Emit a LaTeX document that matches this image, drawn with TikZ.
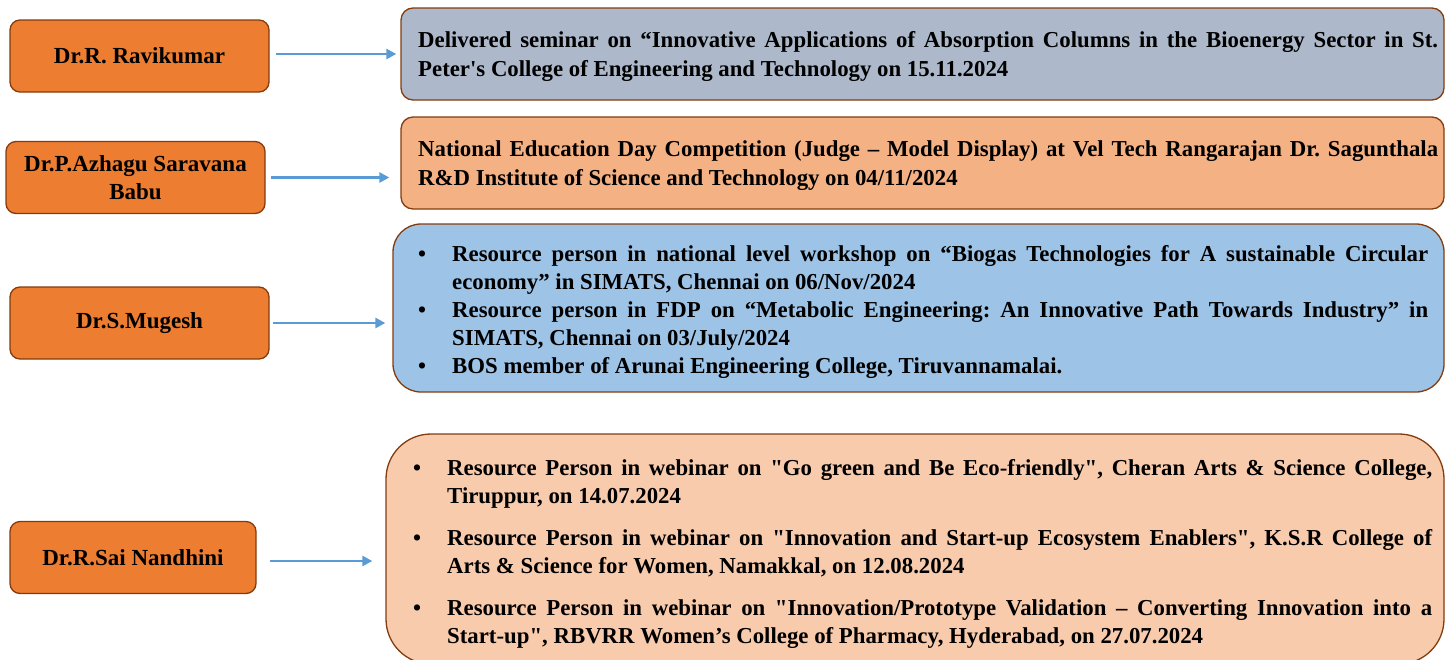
\documentclass[tikz,border=0pt]{standalone}
\usepackage{fontspec}
\newfontfamily\timesfont{Liberation Serif}
\usetikzlibrary{arrows.meta,positioning}
\definecolor{edge}{HTML}{843C0C}
\definecolor{namefill}{HTML}{ED7D31}
\definecolor{grayfill}{HTML}{ADB9CA}
\definecolor{orangefill}{HTML}{F4B183}
\definecolor{bluefill}{HTML}{9DC3E6}
\definecolor{peachfill}{HTML}{F8CBAD}
\definecolor{linkblue}{HTML}{5B9BD5}
\newcommand{\bulletitem}[1]{\hangindent=34pt\hangafter=1\noindent\makebox[34pt][l]{\textbullet}#1\par}
\newcommand{\nohyph}{\frenchspacing\hyphenpenalty=10000\exhyphenpenalty=10000\tolerance=9999\emergencystretch=20pt}
\tikzset{
  namebox/.style={draw=edge,fill=namefill,line width=1.3pt,rounded corners=10pt,
    minimum width=259pt,minimum height=72pt,align=center,
    font=\timesfont\bfseries\fontsize{23}{28}\selectfont},
  infobox/.style={draw=edge,line width=1.3pt,rounded corners=12pt},
  infotext/.style={anchor=north west,inner sep=0pt,align=justify,
    font=\timesfont\bfseries\fontsize{22.8}{29.5}\selectfont,
    execute at begin node=\nohyph},
  link/.style={-{Triangle[length=10pt,width=10pt]},line width=2.6pt,linkblue,
    shorten <=6pt,shorten >=4pt}
}

\begin{document}
\begin{tikzpicture}[x=1pt,y=-1pt]
\useasboundingbox (0,0) rectangle (1445,659);
% names
\node[namebox] (ravi) at (139.5,56) {Dr.R. Ravikumar};
\node[namebox] (babu) at (135.5,177.5) {Dr.P.Azhagu Saravana\\Babu};
\node[namebox] (mugesh) at (139.5,323) {Dr.S.Mugesh};
\node[namebox,minimum width=246pt] (nandhini) at (133,557.5) {Dr.R.Sai Nandhini};
% activity boxes
\node[infobox,fill=grayfill,minimum width=1043pt,minimum height=92pt] (ravinfo) at (922.5,54) {};
\node[infobox,fill=orangefill,minimum width=1043pt,minimum height=92pt] (babuinfo) at (922.5,163) {};
\node[infobox,fill=bluefill,rounded corners=28pt,minimum width=1051pt,minimum height=168pt] (mugeshinfo) at (918.5,308) {};
\node[infobox,fill=peachfill,rounded corners=45pt,minimum width=1058pt,minimum height=230pt] (nandhinfo) at (915,549) {};
% texts
\node[infotext,text width=1020pt] (ravitext) at (418,31)
  {Delivered seminar on “Innovative Applications of Absorption Columns in the Bioenergy Sector in St.\linebreak Peter's College of Engineering and Technology on 15.11.2024};
\node[infotext,text width=1020pt] (babutext) at (418,140)
  {National Education Day Competition (Judge – Model Display) at Vel Tech Rangarajan Dr. Sagunthala\linebreak R\&D Institute of Science and Technology on 04/11/2024};
\node[infotext,text width=1010pt,font=\timesfont\bfseries\fontsize{22.8}{28}\selectfont] (mugeshtext) at (418,245) {%
  \bulletitem{Resource person in national level workshop on “Biogas Technologies for A sustainable Circular\linebreak economy” in SIMATS, Chennai on 06/Nov/2024}
  \bulletitem{Resource person in FDP on “Metabolic Engineering: An Innovative Path Towards Industry” in\linebreak SIMATS, Chennai on 03/July/2024}
  \bulletitem{BOS member of Arunai Engineering College, Tiruvannamalai.}};
\node[infotext,text width=1019pt,font=\timesfont\bfseries\fontsize{22.8}{28}\selectfont] (nandhitext) at (413,459) {%
  \setlength{\parskip}{14pt}%
  \bulletitem{Resource Person in webinar on "Go green and Be Eco-friendly", Cheran Arts \& Science College,\linebreak Tiruppur, on 14.07.2024}
  \bulletitem{Resource Person in webinar on "Innovation and Start-up Ecosystem Enablers", K.S.R College of\linebreak Arts \& Science for Women, Namakkal, on 12.08.2024}
  \bulletitem{Resource Person in webinar on "Innovation/Prototype Validation – Converting Innovation into a\linebreak Start-up", RBVRR Women’s College of Pharmacy, Hyderabad, on 27.07.2024}};
% links
\draw[link] ([yshift=2pt]ravi.east) -- ([yshift=2pt]ravi.east -| ravinfo.west);
\draw[link,shorten <=5pt,shorten >=11pt] (babu.east) -- (babu.east -| babuinfo.west);
\draw[link,shorten <=3pt,shorten >=7pt] (mugesh.east) -- (mugesh.east -| mugeshinfo.west);
\draw[link,shorten <=13pt,shorten >=13pt] ([yshift=-3.5pt]nandhini.east) -- ([yshift=-3.5pt]nandhini.east -| nandhinfo.west);
\end{tikzpicture}
\end{document}
